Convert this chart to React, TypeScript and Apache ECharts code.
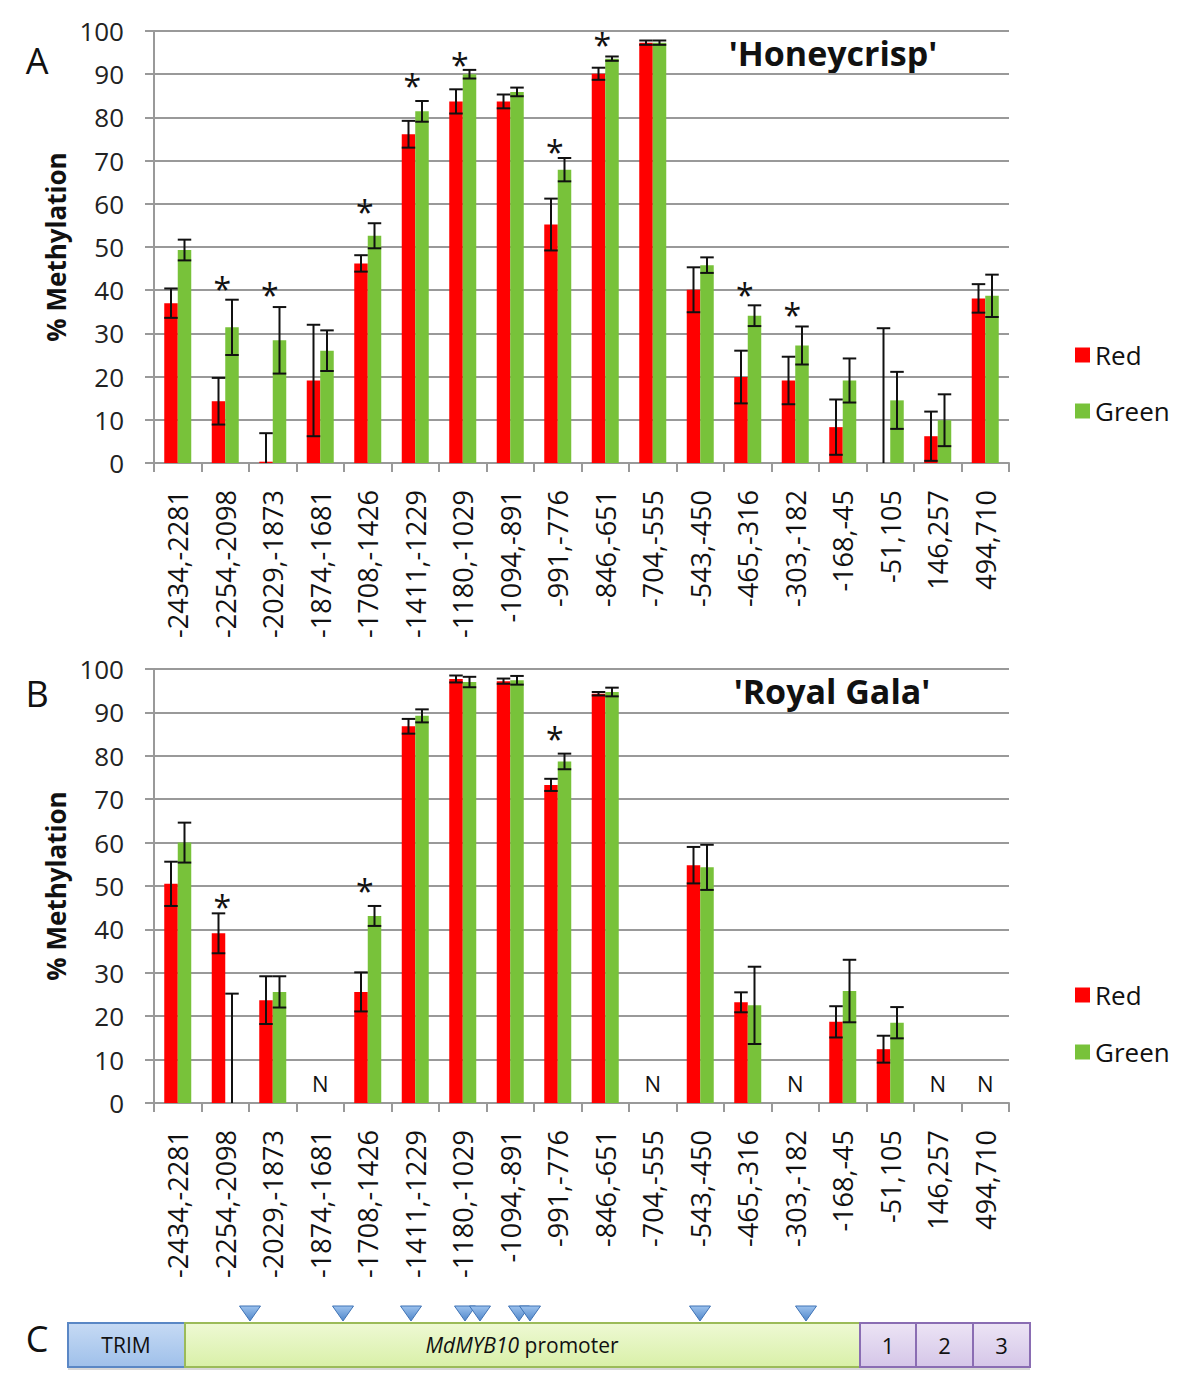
import React, { useEffect, useRef } from "react";
import * as echarts from "echarts";

const FONT = "'Open Sans', 'Liberation Sans', sans-serif";

const categories = [
  "-2434,-2281", "-2254,-2098", "-2029,-1873", "-1874,-1681", "-1708,-1426", "-1411,-1229",
  "-1180,-1029", "-1094,-891", "-991,-776", "-846,-651", "-704,-555", "-543,-450",
  "-465,-316", "-303,-182", "-168,-45", "-51,105", "146,257", "494,710",
];

// Panel A – 'Honeycrisp'
const aRed = [37.0, 14.3, 0.3, 19.1, 46.2, 76.1, 83.7, 83.7, 55.2, 90.1, 97.3, 40.1, 19.9, 19.1, 8.3, 0, 6.2, 38.1];
const aRedErr = [3.4, 5.4, 6.6, 12.9, 1.9, 3.1, 2.8, 1.6, 6.0, 1.4, 0.5, 5.2, 6.1, 5.5, 6.4, 31.2, 5.7, 3.3];
const aGreen = [49.3, 31.4, 28.4, 26.0, 52.6, 81.4, 90.0, 85.9, 67.9, 93.6, 97.3, 45.8, 34.1, 27.2, 19.1, 14.5, 9.9, 38.7];
const aGreenErr = [2.4, 6.4, 7.7, 4.7, 2.9, 2.4, 1.0, 1.0, 2.7, 0.5, 0.5, 1.8, 2.4, 4.4, 5.1, 6.6, 6.0, 4.9];
const aStars = [null, 41.0, 39.8, null, 58.8, 88.1, 92.9, null, 72.8, 97.5, null, null, 39.8, 35.1, null, null, null, null];

// Panel B – 'Royal Gala'
const bRed = [50.5, 39.1, 23.7, null, 25.6, 86.8, 97.7, 97.2, 73.3, 94.3, null, 54.8, 23.2, null, 18.7, 12.4, null, null];
const bRedErr = [5.1, 4.6, 5.5, null, 4.5, 1.7, 0.8, 0.6, 1.4, 0.4, null, 4.2, 2.3, null, 3.6, 3.1, null, null];
const bGreen = [60.0, 0, 25.6, null, 43.1, 89.2, 97.0, 97.4, 78.7, 94.7, null, 54.3, 22.5, null, 25.8, 18.5, null, null];
const bGreenErr = [4.6, 25.2, 3.6, null, 2.3, 1.5, 1.2, 1.0, 1.8, 1.0, null, 5.2, 8.9, null, 7.2, 3.6, null, null];
const bStars = [null, 46.0, null, null, 49.6, null, null, null, 84.6, null, null, null, null, null, null, null, null, null];
const bNoData = [3, 10, 13, 16, 17];

const yTicks = { min: 0, max: 100, interval: 10 };

const RED = "#ff0000";
const GREEN = "#78c23a";
const GRID_GREY = "#999999";
const BAR_W = 13.5;

function errData(vals: (number | null)[], errs: (number | null)[], side: number) {
  const out: any[] = [];
  vals.forEach((v, i) => {
    const e = errs[i];
    if (v == null || e == null) return;
    out.push([i, v, e, side]);
  });
  return out;
}

function starData(stars: (number | null)[]) {
  const out: any[] = [];
  stars.forEach((s, i) => {
    if (s != null) out.push([i, s]);
  });
  return out;
}

const errRender = (params: any, api: any) => {
  const idx = api.value(0);
  const v = api.value(1);
  const e = api.value(2);
  const side = api.value(3);
  const c = api.coord([idx, v]);
  const x = c[0] + (side * BAR_W) / 2;
  const top = api.coord([idx, v + e])[1];
  const low = v - e;
  const bot = api.coord([idx, Math.max(0, low)])[1];
  const hw = BAR_W / 2;
  const st = { stroke: "#111", lineWidth: 2 };
  const children: any[] = [
    { type: "line", shape: { x1: x, y1: top, x2: x, y2: bot }, style: st },
    { type: "line", shape: { x1: x - hw, y1: top, x2: x + hw, y2: top }, style: st },
  ];
  if (low > 0) {
    children.push({ type: "line", shape: { x1: x - hw, y1: bot, x2: x + hw, y2: bot }, style: st });
  }
  return { type: "group", children };
};

const starRender = (params: any, api: any) => {
  const c = api.coord([api.value(0), api.value(1)]);
  return {
    type: "text",
    x: c[0] - 3,
    y: c[1] + 3,
    style: {
      text: "*",
      fontSize: 32,
      fontFamily: FONT,
      fill: "#111",
      textAlign: "center",
      align: "center",
      textVerticalAlign: "middle",
      verticalAlign: "middle",
    },
  };
};

const nRender = (params: any, api: any) => {
  const c = api.coord([api.value(0), api.value(1)]);
  return {
    type: "text",
    x: c[0],
    y: c[1],
    style: {
      text: "N",
      fontSize: 22,
      fontFamily: FONT,
      fill: "#111",
      textAlign: "center",
      align: "center",
      textVerticalAlign: "middle",
      verticalAlign: "middle",
    },
  };
};

function makeXAxis(gridIndex: number) {
  return {
    type: "category",
    gridIndex,
    data: categories,
    boundaryGap: true,
    axisLine: { show: true, lineStyle: { color: GRID_GREY, width: 2 } },
    axisTick: { show: true, length: 9, alignWithLabel: false, lineStyle: { color: GRID_GREY, width: 2 } },
    axisLabel: { rotate: 90, fontSize: 27, color: "#111", margin: 27, fontFamily: FONT, interval: 0 },
  };
}

function makeYAxis(gridIndex: number) {
  return {
    type: "value",
    gridIndex,
    ...yTicks,
    name: "% Methylation",
    nameLocation: "middle",
    nameRotate: 90,
    nameGap: 62,
    nameTextStyle: { fontSize: 26, fontWeight: "bold", color: "#111", fontFamily: FONT },
    axisLine: { show: true, lineStyle: { color: GRID_GREY, width: 2 } },
    axisTick: { show: true, length: 9, lineStyle: { color: GRID_GREY, width: 2 } },
    splitLine: { show: true, lineStyle: { color: GRID_GREY, width: 2 } },
    axisLabel: { fontSize: 26, color: "#222", margin: 30, fontFamily: FONT },
  };
}

function panelSeries(
  gi: number,
  red: (number | null)[],
  redErr: (number | null)[],
  green: (number | null)[],
  greenErr: (number | null)[],
  stars: (number | null)[],
) {
  return [
    {
      name: "Red",
      type: "bar",
      xAxisIndex: gi,
      yAxisIndex: gi,
      data: red.map((v) => (v == null ? "-" : v)),
      barWidth: BAR_W,
      barGap: "0%",
      itemStyle: { color: RED },
    },
    {
      name: "Green",
      type: "bar",
      xAxisIndex: gi,
      yAxisIndex: gi,
      data: green.map((v) => (v == null ? "-" : v)),
      barWidth: BAR_W,
      barGap: "0%",
      itemStyle: { color: GREEN },
    },
    {
      type: "custom",
      xAxisIndex: gi,
      yAxisIndex: gi,
      renderItem: errRender,
      data: [...errData(red, redErr, -1), ...errData(green, greenErr, 1)],
      encode: { x: 0, y: 1 },
      z: 5,
      silent: true,
    },
    {
      type: "custom",
      xAxisIndex: gi,
      yAxisIndex: gi,
      renderItem: starRender,
      data: starData(stars),
      encode: { x: 0, y: 1 },
      z: 6,
      silent: true,
    },
  ];
}

function buildDiagram() {
  const y0 = 1323;
  const h = 44;
  const els: any[] = [];
  const vgrad = (a: string, b: string) =>
    new echarts.graphic.LinearGradient(0, 0, 0, 1, [
      { offset: 0, color: a },
      { offset: 1, color: b },
    ]);
  const boxes = [
    { x: 68, w: 117, fill: vgrad("#c6daf4", "#9fc0ea"), stroke: "#5a87c5" },
    { x: 185, w: 675, fill: vgrad("#eef9d4", "#d9f0a8"), stroke: "#9bbb59" },
    { x: 860, w: 56, fill: vgrad("#ece4f5", "#d5c6e8"), stroke: "#8a6db3" },
    { x: 916, w: 57, fill: vgrad("#ece4f5", "#d5c6e8"), stroke: "#8a6db3" },
    { x: 973, w: 57, fill: vgrad("#ece4f5", "#d5c6e8"), stroke: "#8a6db3" },
  ];
  els.push({ type: "rect", shape: { x: 68, y: y0 + 3, width: 962, height: h }, style: { fill: "#d8d8d8" }, z: 1 });
  boxes.forEach((b) =>
    els.push({
      type: "rect",
      shape: { x: b.x, y: y0, width: b.w, height: h },
      style: { fill: b.fill, stroke: b.stroke, lineWidth: 2 },
      z: 2,
    }),
  );
  const txt = (x: number, text: string, extra: any = {}) => ({
    type: "text",
    x,
    y: y0 + h / 2,
    z: 3,
    style: {
      text,
      fontSize: 21,
      fontFamily: FONT,
      fill: "#111",
      textAlign: "center",
      align: "center",
      textVerticalAlign: "middle",
      verticalAlign: "middle",
      ...extra,
    },
  });
  els.push(txt(126, "TRIM"));
  els.push(
    txt(522, "{i|MdMYB10} promoter", {
      rich: { i: { fontStyle: "italic", fontSize: 21, fontFamily: FONT, fill: "#111" } },
    }),
  );
  els.push(txt(888, "1", { fontSize: 22 }));
  els.push(txt(944.5, "2", { fontSize: 22 }));
  els.push(txt(1001.5, "3", { fontSize: 22 }));
  const markerX = [250, 343, 411, 465, 480, 519, 530, 700, 806];
  markerX.forEach((mx) =>
    els.push({
      type: "polygon",
      shape: { points: [[mx - 10.5, 1306], [mx + 10.5, 1306], [mx, 1321]] },
      style: { fill: vgrad("#9cc2ee", "#4f86c9"), stroke: "#3f73b5", lineWidth: 1 },
      z: 4,
    }),
  );
  els.push({
    type: "text",
    x: 37,
    y: 1338,
    style: { text: "C", fontSize: 36, fontFamily: FONT, fill: "#111", textAlign: "center", align: "center", textVerticalAlign: "middle", verticalAlign: "middle" },
  });
  return els;
}

function label(x: number, y: number, text: string, size: number, bold = false) {
  return {
    type: "text",
    x,
    y,
    style: {
      text,
      fontSize: size,
      fontWeight: bold ? "bold" : "normal",
      fontFamily: FONT,
      fill: "#111",
      textAlign: "center",
      align: "center",
      textVerticalAlign: "middle",
      verticalAlign: "middle",
    },
  };
}

export default function App() {
  const ref = useRef<HTMLDivElement>(null);
  useEffect(() => {
    document.body.style.margin = "0";
    if (!ref.current) return;
    const chart = echarts.init(ref.current, null, { renderer: "svg" });
    const legendBase = {
      orient: "vertical",
      left: 1070,
      itemWidth: 15,
      itemHeight: 15,
      icon: "rect",
      data: ["Red", "Green"],
      textStyle: { fontSize: 26, lineHeight: 30, color: "#111", fontFamily: FONT },
      selectedMode: false,
    };
    const option: any = {
      animation: false,
      backgroundColor: "#ffffff",
      grid: [
        { left: 154, top: 31, width: 855, height: 432 },
        { left: 154, top: 669, width: 855, height: 434 },
      ],
      xAxis: [makeXAxis(0), makeXAxis(1)],
      yAxis: [makeYAxis(0), makeYAxis(1)],
      legend: [
        { ...legendBase, top: 335, itemGap: 26 },
        { ...legendBase, top: 975, itemGap: 27 },
      ],
      series: [
        ...panelSeries(0, aRed, aRedErr, aGreen, aGreenErr, aStars),
        ...panelSeries(1, bRed, bRedErr, bGreen, bGreenErr, bStars),
        {
          type: "custom",
          xAxisIndex: 1,
          yAxisIndex: 1,
          renderItem: nRender,
          data: bNoData.map((i) => [i, 4.6]),
          encode: { x: 0, y: 1 },
          z: 6,
          silent: true,
        },
      ],
      graphic: [
        label(37, 60, "A", 36),
        label(37, 693, "B", 36),
        label(833, 53, "'Honeycrisp'", 34, true),
        label(832, 691, "'Royal Gala'", 34, true),
        ...buildDiagram(),
      ],
    };
    chart.setOption(option);
    return () => chart.dispose();
  }, []);
  return <div ref={ref} style={{ width: 1200, height: 1379 }} />;
}
